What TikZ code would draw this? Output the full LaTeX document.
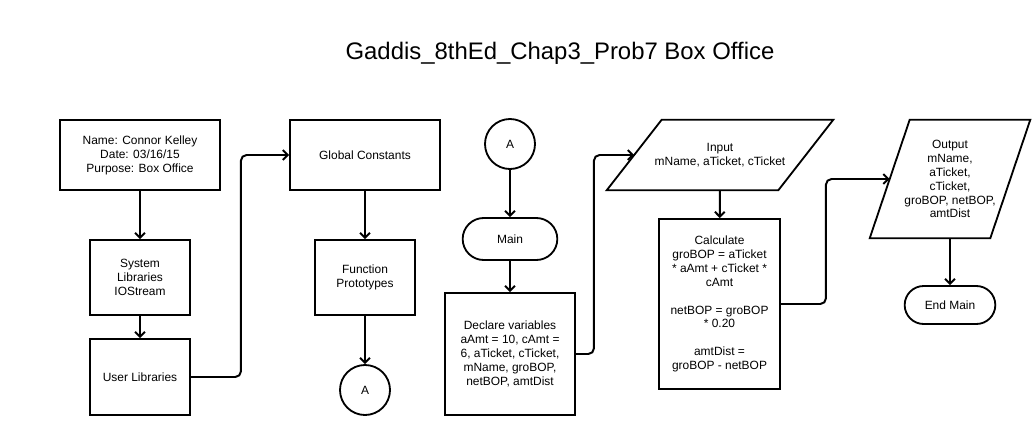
\documentclass[tikz,border=0pt]{standalone}
\usepackage{fontspec}
\setmainfont{Liberation Sans}
\usetikzlibrary{shapes.misc, arrows.meta}

\begin{document}
\begin{tikzpicture}[
    x=0.025cm, y=-0.025cm,
    box/.style={draw, rectangle, line width=1.3pt, align=center, inner sep=1pt, font=\fontsize{8.5}{9.9}\selectfont},
    term/.style={draw, rounded rectangle, line width=1.3pt, minimum height=1.05cm, align=center, font=\fontsize{8.5}{9.9}\selectfont},
    conn/.style={draw, circle, line width=1.3pt, minimum size=1.25cm, inner sep=0pt, font=\fontsize{8.5}{9.9}\selectfont},
    io/.style={rectangle, align=center, inner sep=1pt, font=\fontsize{8.5}{9.9}\selectfont},
    outline/.style={line width=1.3pt, line join=miter},
    flow/.style={-{Straight Barb[length=3.5pt, width=7pt]}, line width=1.4pt, rounded corners=4pt}
]
    \useasboundingbox (0,0) rectangle (1035,435);

    % Title
    \node[font=\fontsize{17}{20}\selectfont] (title) at (560,53) {Gaddis\_8thEd\_Chap3\_Prob7 Box Office};

    % Column 1: header and libraries
    \node[box, minimum width=4cm, minimum height=1.75cm] (header) at (140,155) {
        Name: Connor Kelley\\
        Date: 03/16/15\\
        Purpose: Box Office
    };
    \node[box, minimum width=2.5cm, minimum height=1.875cm] (syslib) at (140,277.5) {
        System\\
        Libraries\\
        IOStream
    };
    \node[box, minimum width=2.5cm, minimum height=1.9cm] (userlib) at (140,377) {User Libraries};

    % Column 2: globals and prototypes
    \node[box, minimum width=3.75cm, minimum height=1.75cm] (globals) at (365,155) {Global Constants};
    \node[box, minimum width=2.5cm, minimum height=1.875cm] (protos) at (365,277.5) {
        Function\\
        Prototypes
    };
    \node[conn] (connEnd) at (365,390) {A};

    % Column 3: main
    \node[conn] (connStart) at (510,144) {A};
    \node[term, minimum width=2.6cm] (mainStart) at (510,239) {Main};
    \node[box, minimum width=3.25cm, minimum height=3.05cm] (declare) at (510,354) {
        Declare variables\\
        aAmt = 10, cAmt =\\
        6, aTicket, cTicket,\\
        mName, groBOP,\\
        netBOP, amtDist
    };

    % Column 4: input and calculation
    \node[io, minimum width=4.275cm, minimum height=1.75cm] (input) at (720,155) {
        Input\\
        mName, aTicket, cTicket
    };
    \draw[outline] ([xshift=0.6875cm]input.north west) -- ([xshift=0.6875cm]input.north east)
        -- ([xshift=-0.6875cm]input.south east) -- ([xshift=-0.6875cm]input.south west) -- cycle;
    \node[box, minimum width=3.025cm, minimum height=4.25cm] (calc) at (719.5,304) {
        Calculate\\
        groBOP = aTicket\\
        * aAmt + cTicket *\\
        cAmt\\[9.9pt]
        netBOP = groBOP\\
        * 0.20\\[9.9pt]
        amtDist =\\
        groBOP - netBOP
    };

    % Column 5: output
    \node[io, minimum width=3cm, minimum height=2.95cm] (output) at (950,179) {
        Output\\
        mName,\\
        aTicket,\\
        cTicket,\\
        groBOP, netBOP,\\
        amtDist
    };
    \draw[outline] ([xshift=0.5cm]output.north west) -- ([xshift=0.5cm]output.north east)
        -- ([xshift=-0.5cm]output.south east) -- ([xshift=-0.5cm]output.south west) -- cycle;
    \node[term, minimum width=2.5cm, minimum height=0.95cm] (mainEnd) at (950,305) {End Main};

    % Arrows
    \draw[flow] (header) -- (syslib);
    \draw[flow] (syslib) -- (userlib);
    \draw[flow] (userlib.east) -- ++(50,0) |- (globals.west);
    \draw[flow] (globals) -- (protos);
    \draw[flow] (protos) -- (connEnd);
    \draw[flow] (connStart) -- (mainStart);
    \draw[flow] (mainStart) -- (declare);
    \draw[flow] (declare.east) -- ++(18,0) |- (input.west);
    \draw[flow] (input) -- (calc);
    \draw[flow] (calc.east) -- ++(45,0) |- (output.west);
    \draw[flow] (output) -- (mainEnd);

\end{tikzpicture}
\end{document}
